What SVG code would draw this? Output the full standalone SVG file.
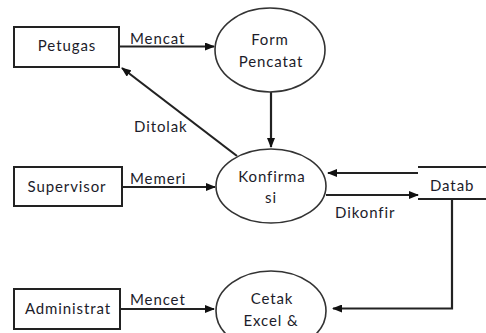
<svg xmlns="http://www.w3.org/2000/svg" width="486" height="333" viewBox="0 0 486 333">
<style>
.box{fill:#fff;stroke:#222;stroke-width:2}
.proc{fill:#fff;stroke:#333;stroke-width:1.6}
.t{font-family:Lato,"Open Sans",sans-serif;font-size:15px;letter-spacing:0.9px;fill:#1c1c2a;text-anchor:middle}
.l{font-family:Lato,"Open Sans",sans-serif;font-size:15px;letter-spacing:0.9px;fill:#1c1c2a}
.c{fill:none;stroke:#222;stroke-width:2.2}
</style>
<defs>
<marker id="ah" markerWidth="10" markerHeight="8" refX="9" refY="4" orient="auto" markerUnits="userSpaceOnUse">
<path d="M0,0 L10,4 L0,8 Z" fill="#111"/>
</marker>
</defs>
<rect width="486" height="333" fill="#fff"/>
<g id="connectors">
<line class="c" x1="120" y1="46.5" x2="214" y2="46.5" marker-end="url(#ah)"/>
<line class="c" x1="271" y1="92" x2="271" y2="147" marker-end="url(#ah)"/>
<line class="c" x1="237" y1="156" x2="122" y2="68" marker-end="url(#ah)"/>
<line class="c" x1="122" y1="187" x2="215" y2="187" marker-end="url(#ah)"/>
<line class="c" x1="418" y1="173" x2="328" y2="173" marker-end="url(#ah)"/>
<line class="c" x1="326" y1="195" x2="418" y2="195" marker-end="url(#ah)"/>
<polyline class="c" points="452,199 452,308.5 333,308.5" marker-end="url(#ah)"/>
<line class="c" x1="120" y1="309" x2="214" y2="309" marker-end="url(#ah)"/>
<text class="l" x="130" y="44">Mencat</text>
<text class="l" x="134" y="132">Ditolak</text>
<text class="l" x="130" y="184">Memeri</text>
<text class="l" x="335" y="218">Dikonfir</text>
<text class="l" x="130" y="305">Mencet</text>
</g>
<g id="petugas">
<rect class="box" x="14" y="27" width="105" height="40"/>
<text class="t" x="67" y="51">Petugas</text>
</g>
<g id="supervisor">
<rect class="box" x="14" y="167" width="108" height="39"/>
<text class="t" x="67" y="192">Supervisor</text>
</g>
<g id="administrat">
<rect class="box" x="14" y="289" width="106" height="40"/>
<text class="t" x="68" y="314">Administrat</text>
</g>
<g id="form-pencatat">
<ellipse class="proc" cx="270" cy="50" rx="55" ry="42"/>
<text class="t" x="270" y="45">Form</text>
<text class="t" x="271" y="67">Pencatat</text>
</g>
<g id="konfirmasi">
<ellipse class="proc" cx="271" cy="186" rx="55" ry="37"/>
<text class="t" x="272" y="182">Konfirma</text>
<text class="t" x="271" y="203">si</text>
</g>
<g id="datab">
<line class="c" x1="418" y1="167" x2="486" y2="167"/>
<line class="c" x1="418" y1="199" x2="486" y2="199"/>
<text class="l" x="430" y="191">Datab</text>
</g>
<g id="cetak">
<ellipse class="proc" cx="271" cy="311" rx="55" ry="40"/>
<text class="t" x="272" y="304">Cetak</text>
<text class="t" x="271" y="326">Excel &amp;</text>
</g>
</svg>
